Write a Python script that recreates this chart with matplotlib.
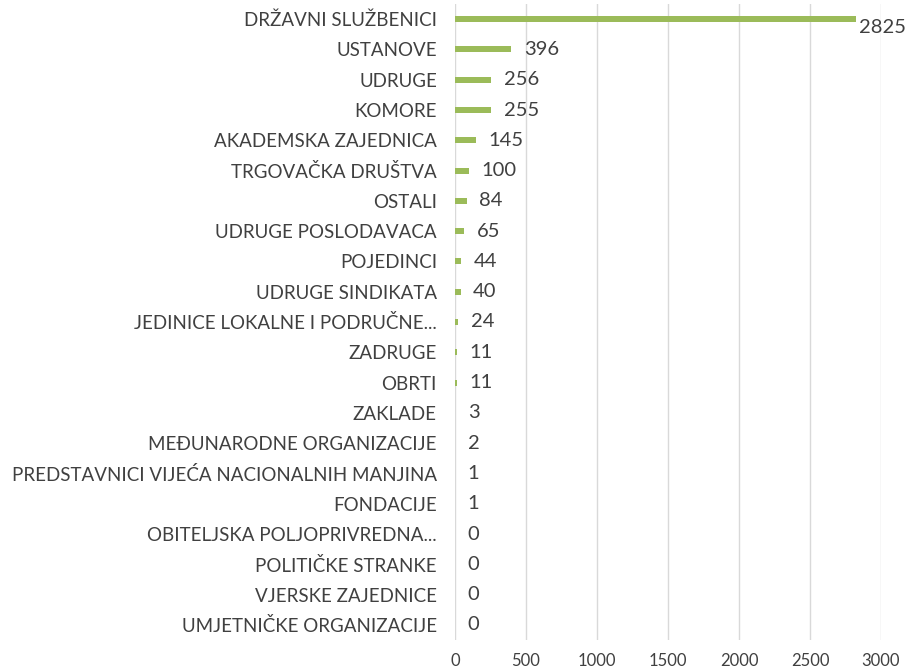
import matplotlib.pyplot as plt
import numpy as np

plt.rcParams['font.family'] = ['Lato', 'DejaVu Sans']

categories = ['DRŽAVNI SLUŽBENICI', 'USTANOVE', 'UDRUGE', 'KOMORE',
              'AKADEMSKA ZAJEDNICA', 'TRGOVAČKA DRUŠTVA', 'OSTALI',
              'UDRUGE POSLODAVACA', 'POJEDINCI', 'UDRUGE SINDIKATA',
              'JEDINICE LOKALNE I PODRUČNE...', 'ZADRUGE', 'OBRTI', 'ZAKLADE',
              'MEĐUNARODNE ORGANIZACIJE',
              'PREDSTAVNICI VIJEĆA NACIONALNIH MANJINA', 'FONDACIJE',
              'OBITELJSKA POLJOPRIVREDNA...', 'POLITIČKE STRANKE',
              'VJERSKE ZAJEDNICE', 'UMJETNIČKE ORGANIZACIJE']
values = [2825, 396, 256, 255, 145, 100, 84, 65, 44, 40, 24, 11, 11, 3, 2,
          1, 1, 0, 0, 0, 0]
xticks = [0, 500, 1000, 1500, 2000, 2500, 3000]

green = '#9BBB59'
txt = '#404040'

fig = plt.figure(figsize=(9.07, 6.72), dpi=100)
ax = fig.add_axes([455/907, 1 - 640/672, 426/907, 636/672])

y = np.arange(len(categories))
ax.barh(y, values, height=0.2, color=green, zorder=3)

for i, (yi, v) in enumerate(zip(y, values)):
    # the longest bar's label sits a bit lower, right next to the bar end
    off = (2, -6) if i == 0 else (9, 0)
    ax.annotate(str(v), (v, yi), xytext=off, textcoords='offset points',
                va='center', ha='left', fontsize=14.5, color=txt)

ax.set_yticks(y)
ax.set_yticklabels(categories, fontsize=13.5, color=txt)
ax.set_ylim(len(categories) - 0.5, -0.5)
ax.set_xlim(0, 3000)
ax.set_xticks(xticks)
ax.set_xticklabels([str(t) for t in xticks], fontsize=12, color=txt)
ax.tick_params(axis='y', length=0, pad=13)
ax.tick_params(axis='x', length=0, pad=9)
ax.grid(axis='x', color='#D9D9D9', linewidth=1, zorder=0)
for s in ax.spines.values():
    s.set_visible(False)

fig.savefig('out.png', dpi=100)
